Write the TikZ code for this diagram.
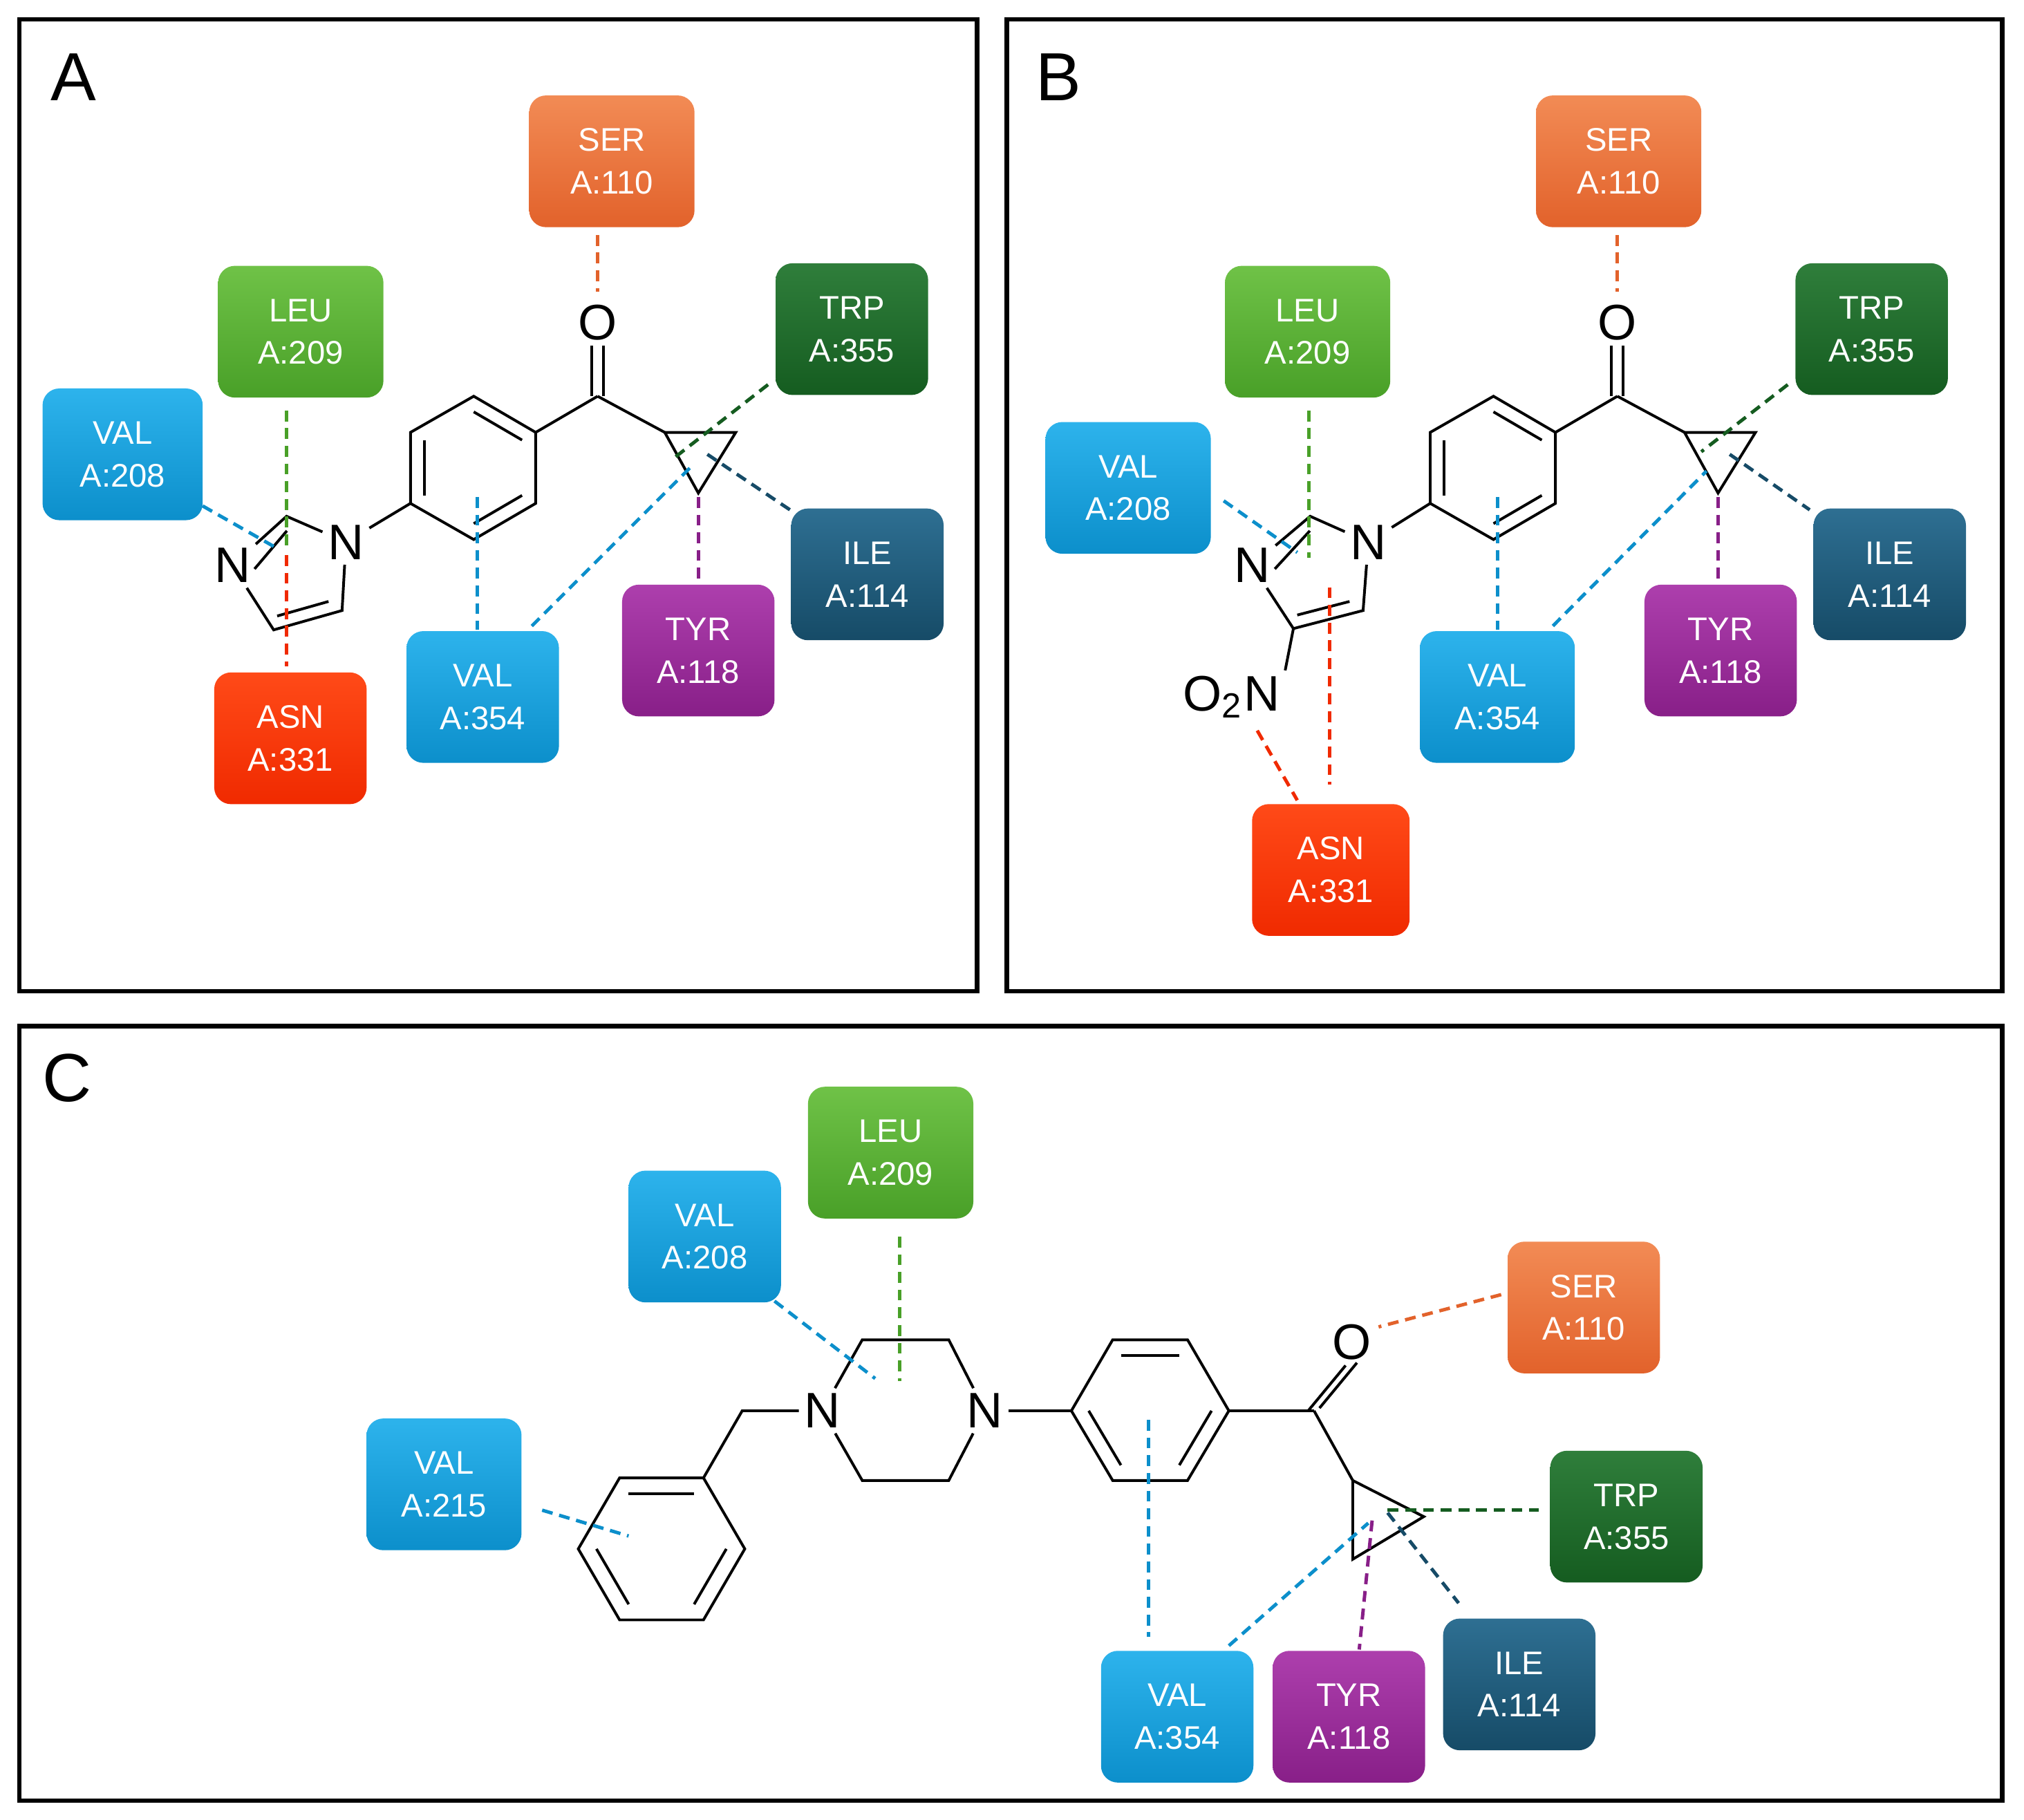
\documentclass[tikz,border=0pt]{standalone}
\usepackage{fontspec}
\setmainfont{Liberation Sans}
\usetikzlibrary{calc}
\begin{document}
\begin{tikzpicture}[x=0.01cm,y=-0.01cm,
 res/.style={rounded corners=0.13cm,minimum width=1.18cm,minimum height=1.02cm,text=white,align=center,font=\fontsize{7.2}{9.4}\selectfont,inner sep=0pt},
 wide/.style={minimum width=1.28cm},
 bond/.style={line width=0.6pt,black},
 atom/.style={font=\fontsize{11}{11}\selectfont,inner sep=1pt},
 dsh/.style={line width=0.75pt,dash pattern=on 2.4pt off 1.5pt},
 frame/.style={line width=1pt}]
\definecolor{serT}{HTML}{F28B55}\definecolor{serB}{HTML}{E2622B}
\definecolor{leuT}{HTML}{6FC247}\definecolor{leuB}{HTML}{49A028}
\definecolor{trpT}{HTML}{2F7E3B}\definecolor{trpB}{HTML}{155C20}
\definecolor{valT}{HTML}{2DB3EC}\definecolor{valB}{HTML}{0C8FCB}
\definecolor{ileT}{HTML}{2E6F92}\definecolor{ileB}{HTML}{164B67}
\definecolor{tyrT}{HTML}{AD3FAD}\definecolor{tyrB}{HTML}{881F88}
\definecolor{asnT}{HTML}{FF4A18}\definecolor{asnB}{HTML}{F02A00}
\tikzset{
 SER/.style={res,wide,top color=serT,bottom color=serB},
 LEU/.style={res,wide,top color=leuT,bottom color=leuB},
 TRP/.style={res,top color=trpT,bottom color=trpB},
 VAL/.style={res,top color=valT,bottom color=valB},
 ILE/.style={res,top color=ileT,bottom color=ileB},
 TYR/.style={res,top color=tyrT,bottom color=tyrB},
 ASN/.style={res,top color=asnT,bottom color=asnB},
 cSER/.style={dsh,serB}, cLEU/.style={dsh,leuB}, cTRP/.style={dsh,trpB},
 cVAL/.style={dsh,valB}, cILE/.style={dsh,ileB}, cTYR/.style={dsh,tyrB}, cASN/.style={dsh,asnB}}
\useasboundingbox (0,0) rectangle (1568,1410);
% frames
\draw[frame] (15,15) rectangle (757,768);
\draw[frame] (780,15) rectangle (1551,768);
\draw[frame] (15,795) rectangle (1551,1395);
\node[font=\fontsize{15}{15}\selectfont] (lA) at (57,60) {A};
\node[font=\fontsize{15}{15}\selectfont] (lB) at (820,60) {B};
\node[font=\fontsize{15}{15}\selectfont] (lC) at (52,835) {C};

\newcommand\corepart[1]{%
 \coordinate (#1B1) at (367,307); \coordinate (#1B2) at (415,335);
 \coordinate (#1B3) at (415,390); \coordinate (#1B4) at (367,418);
 \coordinate (#1B5) at (318,390); \coordinate (#1B6) at (318,335);
 \coordinate (#1Bc) at (367,362);
 \draw[bond] (#1B1)--(#1B2)--(#1B3)--(#1B4)--(#1B5)--(#1B6)--cycle;
 \draw[bond] ($(#1Bc)!0.78!(#1B1)$)--($(#1Bc)!0.78!(#1B2)$);
 \draw[bond] ($(#1Bc)!0.78!(#1B3)$)--($(#1Bc)!0.78!(#1B4)$);
 \draw[bond] ($(#1Bc)!0.78!(#1B5)$)--($(#1Bc)!0.78!(#1B6)$);
 \coordinate (#1C) at (463,307);
 \node[atom] (#1O) at (463,250) {O};
 \draw[bond] (#1B2)--(#1C);
 \draw[bond] ([xshift=-1.3pt]#1C)--([xshift=-1.3pt]#1O.south);
 \draw[bond] ([xshift=1.3pt]#1C)--([xshift=1.3pt]#1O.south);
 \coordinate (#1P1) at (515,335); \coordinate (#1P2) at (570,335); \coordinate (#1P3) at (541,382);
 \draw[bond] (#1C)--(#1P1);
 \draw[bond] (#1P1)--(#1P2)--(#1P3)--cycle;
}
% ---------- Panel A ----------
\corepart{a}
\node[atom] (aN1) at (268,420) {N};
\coordinate (aC2) at (222,400);
\node[atom] (aN3) at (180,438) {N};
\coordinate (aC4) at (212,488); \coordinate (aC5) at (265,473);
\coordinate (aIc) at (223,445);
\draw[bond] (aN1)--(aC2)--(aN3)--(aC4)--(aC5)--(aN1);
\draw[bond] ($(aIc)!0.75!(aC2)$)--($(aIc)!0.6!(aN3)$);
\draw[bond] ($(aIc)!0.75!(aC4)$)--($(aIc)!0.75!(aC5)$);
\draw[bond] (aN1)--(aB5);
\node[SER] (aSER) at (474,125) {SER\\A:110};
\node[LEU] (aLEU) at (233,257) {LEU\\A:209};
\node[TRP] (aTRP) at (660,255) {TRP\\A:355};
\node[VAL,minimum width=1.24cm] (aV208) at (95,352) {VAL\\A:208};
\node[ILE] (aILE) at (672,445) {ILE\\A:114};
\node[TYR] (aTYR) at (541,504) {TYR\\A:118};
\node[VAL] (aV354) at (374,540) {VAL\\A:354};
\node[ASN] (aASN) at (225,572) {ASN\\A:331};
\draw[cSER] (463,182)--(463,226);
\draw[cLEU] (222,318)--(222,425);
\draw[cTRP] (595,298)--(522,355);
\draw[cVAL] (157,392)--(215,425);
\draw[cILE] (548,352)--(612,395);
\draw[cTYR] (541,385)--(541,448);
\draw[cVAL] (370,385)--(370,488);
\draw[cVAL] (412,485)--(535,362);
\draw[cASN] (222,430)--(222,516);

% ---------- Panel B ----------
\begin{scope}[shift={(790,0)}]
\corepart{b}
\end{scope}
\node[atom] (bN1) at (1060,420) {N};
\coordinate (bC2) at (1015,400);
\node[atom] (bN3) at (970,438) {N};
\coordinate (bC4) at (1002,487); \coordinate (bC5) at (1056,473);
\coordinate (bIc) at (1014,445);
\draw[bond] (bN1)--(bC2)--(bN3)--(bC4)--(bC5)--(bN1);
\draw[bond] ($(bIc)!0.75!(bC2)$)--($(bIc)!0.6!(bN3)$);
\draw[bond] ($(bIc)!0.75!(bC4)$)--($(bIc)!0.75!(bC5)$);
\draw[bond] (bN1)--(bB5);
\node[atom] (bNO2) at (954,540) {O\textsubscript{2}N};
\draw[bond] (bC4)--(bNO2.north east);
\node[SER] (bSER) at (1254,125) {SER\\A:110};
\node[LEU] (bLEU) at (1013,257) {LEU\\A:209};
\node[TRP] (bTRP) at (1450,255) {TRP\\A:355};
\node[VAL,minimum width=1.28cm] (bV208) at (874,378) {VAL\\A:208};
\node[ILE] (bILE) at (1464,445) {ILE\\A:114};
\node[TYR] (bTYR) at (1333,504) {TYR\\A:118};
\node[VAL,minimum width=1.2cm] (bV354) at (1160,540) {VAL\\A:354};
\node[ASN,minimum width=1.22cm] (bASN) at (1031,674) {ASN\\A:331};
\draw[cSER] (1253,182)--(1253,226);
\draw[cLEU] (1014,318)--(1014,432);
\draw[cTRP] (1385,298)--(1318,350);
\draw[cVAL] (948,388)--(1005,428);
\draw[cILE] (1340,352)--(1402,395);
\draw[cTYR] (1331,385)--(1331,448);
\draw[cVAL] (1160,385)--(1160,488);
\draw[cVAL] (1203,485)--(1322,365);
\draw[cASN] (1030,455)--(1030,608);
\draw[cASN] (974,566)--(1005,620);

% ---------- Panel C ----------
\node[atom] (cN1) at (637,1093) {N};
\node[atom] (cN4) at (763,1093) {N};
\coordinate (cP1) at (668,1038); \coordinate (cP2) at (735,1038);
\coordinate (cP3) at (735,1147); \coordinate (cP4) at (668,1147);
\draw[bond] (cN1)--(cP1)--(cP2)--(cN4)--(cP3)--(cP4)--(cN1);
\coordinate (cCH) at (575,1093);
\coordinate (cR1) at (480,1145); \coordinate (cR2) at (545,1145); \coordinate (cR3) at (577,1200);
\coordinate (cR4) at (545,1255); \coordinate (cR5) at (480,1255); \coordinate (cR6) at (448,1200);
\coordinate (cRc) at (512,1200);
\draw[bond] (cN1)--(cCH)--(cR2);
\draw[bond] (cR1)--(cR2)--(cR3)--(cR4)--(cR5)--(cR6)--cycle;
\draw[bond] ($(cRc)!0.78!(cR1)$)--($(cRc)!0.78!(cR2)$);
\draw[bond] ($(cRc)!0.78!(cR3)$)--($(cRc)!0.78!(cR4)$);
\draw[bond] ($(cRc)!0.78!(cR5)$)--($(cRc)!0.78!(cR6)$);
\coordinate (cS1) at (862,1038); \coordinate (cS2) at (920,1038); \coordinate (cS3) at (952,1093);
\coordinate (cS4) at (920,1147); \coordinate (cS5) at (862,1147); \coordinate (cS6) at (830,1093);
\coordinate (cSc) at (891,1093);
\draw[bond] (cN4)--(cS6);
\draw[bond] (cS1)--(cS2)--(cS3)--(cS4)--(cS5)--(cS6)--cycle;
\draw[bond] ($(cSc)!0.78!(cS1)$)--($(cSc)!0.78!(cS2)$);
\draw[bond] ($(cSc)!0.78!(cS3)$)--($(cSc)!0.78!(cS4)$);
\draw[bond] ($(cSc)!0.78!(cS5)$)--($(cSc)!0.78!(cS6)$);
\coordinate (cC) at (1018,1093);
\node[atom] (cO) at (1047,1040) {O};
\draw[bond] (cS3)--(cC);
\draw[bond] ([xshift=-1.3pt]cC)--([xshift=-1.3pt]cO.south);
\draw[bond] ([xshift=1.2pt,yshift=0.6pt]cC)--([xshift=1.2pt,yshift=0.6pt]cO.south);
\coordinate (cT1) at (1048,1147); \coordinate (cT2) at (1103,1175); \coordinate (cT3) at (1048,1208);
\draw[bond] (cC)--(cT1);
\draw[bond] (cT1)--(cT2)--(cT3)--cycle;
\node[LEU] (cLEU) at (690,893) {LEU\\A:209};
\node[VAL] (cV208) at (546,958) {VAL\\A:208};
\node[SER,minimum width=1.18cm] (cSER) at (1227,1013) {SER\\A:110};
\node[VAL,minimum width=1.2cm] (cV215) at (344,1150) {VAL\\A:215};
\node[TRP] (cTRP) at (1260,1175) {TRP\\A:355};
\node[ILE] (cILE) at (1177,1305) {ILE\\A:114};
\node[VAL] (cV354) at (912,1330) {VAL\\A:354};
\node[TYR] (cTYR) at (1045,1330) {TYR\\A:118};
\draw[cLEU] (697,958)--(697,1070);
\draw[cVAL] (600,1008)--(678,1068);
\draw[cSER] (1163,1003)--(1068,1028);
\draw[cVAL] (420,1170)--(487,1190);
\draw[cTRP] (1075,1170)--(1192,1170);
\draw[cILE] (1075,1172)--(1130,1242);
\draw[cTYR] (1063,1178)--(1053,1278);
\draw[cVAL] (890,1100)--(890,1268);
\draw[cVAL] (952,1275)--(1060,1180);
\end{tikzpicture}
\end{document}
